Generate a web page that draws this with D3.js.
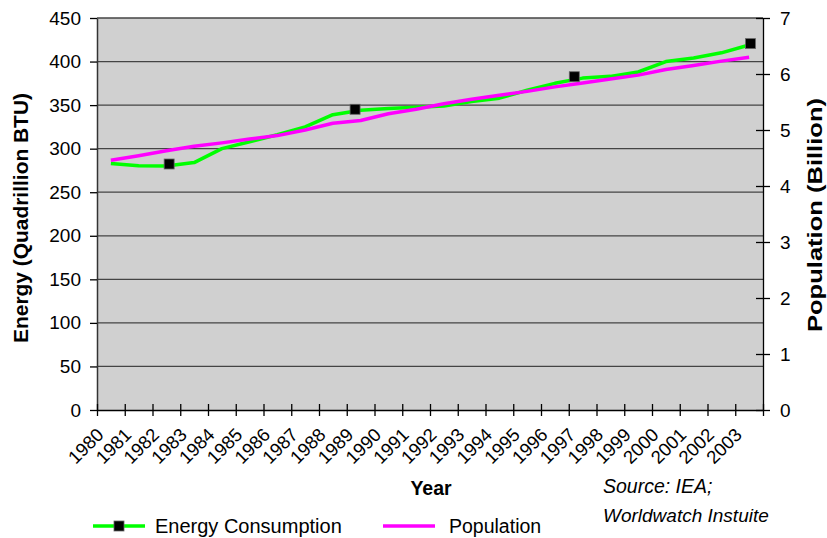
<!DOCTYPE html>
<html>
<head>
<meta charset="utf-8">
<script src="https://cdn.jsdelivr.net/npm/d3@7/dist/d3.min.js"></script>
<style>
  html, body { margin: 0; padding: 0; background: #fff; }
  svg { display: block; font-family: "Liberation Sans", Arial, sans-serif; }
</style>
</head>
<body>
<svg id="chart" width="827" height="538"></svg>
<script>
// World energy consumption vs. population, 1980-2003
const years = [1980, 1981, 1982, 1983, 1984, 1985, 1986, 1987, 1988, 1989, 1990, 1991,
               1992, 1993, 1994, 1995, 1996, 1997, 1998, 1999, 2000, 2001, 2002, 2003];
const energy = [283, 280.5, 280, 284, 300, 308, 316, 325, 339, 344, 346, 347.5,
                349, 354, 358, 367, 375, 381, 383, 388, 400, 404, 410, 419];
const population = [4.46, 4.54, 4.63, 4.71, 4.77, 4.84, 4.90, 5.00, 5.12, 5.17, 5.29, 5.37,
                    5.47, 5.55, 5.62, 5.69, 5.77, 5.84, 5.91, 5.98, 6.08, 6.15, 6.23, 6.30];
// marker positions along the energy series
const markerYears = [1982.1, 1988.8, 1996.7, 2003.05];
const markerEnergy = [282.4, 345.2, 382.6, 420.6];
const energyTicks = [0, 50, 100, 150, 200, 250, 300, 350, 400, 450];
const populationTicks = [0, 1, 2, 3, 4, 5, 6, 7];

const svg = d3.select("#chart");
const plot = { left: 97, right: 763, top: 18, bottom: 410 };
const FONT = "'Liberation Sans', Arial, sans-serif";

const x = d3.scaleLinear().domain([years[0] - 0.5, years[years.length - 1] + 0.5])
  .range([plot.left, plot.right]);
const yE = d3.scaleLinear().domain([0, 450]).range([plot.bottom, plot.top]);
const yP = d3.scaleLinear().domain([0, 7]).range([plot.bottom, plot.top]);

// plot background
svg.append("rect")
  .attr("x", plot.left).attr("y", plot.top)
  .attr("width", plot.right - plot.left).attr("height", plot.bottom - plot.top)
  .attr("fill", "#d0d0d0");

// horizontal gridlines at energy ticks
svg.append("g").selectAll("line").data(energyTicks.filter(d => d > 0)).join("line")
  .attr("x1", plot.left).attr("x2", plot.right)
  .attr("y1", d => yE(d)).attr("y2", d => yE(d))
  .attr("stroke", "#444").attr("stroke-width", 1.3);

// left axis
const gL = svg.append("g").attr("transform", `translate(${plot.left},0)`)
  .call(d3.axisLeft(yE).tickValues(energyTicks).tickSizeInner(7).tickSizeOuter(0).tickPadding(9));
gL.select(".domain").attr("stroke", "#333").attr("stroke-width", 1.5);
gL.selectAll(".tick line").attr("stroke", "#000").attr("stroke-width", 1.3);
gL.selectAll(".tick text").attr("font-size", 19).attr("fill", "#000").attr("font-family", FONT);

// right axis with crossing ticks
const gR = svg.append("g").attr("transform", `translate(${plot.right},0)`)
  .call(d3.axisRight(yP).tickValues(populationTicks).tickFormat(d3.format("d"))
    .tickSizeInner(7).tickSizeOuter(0).tickPadding(10));
gR.select(".domain").attr("stroke", "#000").attr("stroke-width", 1.3);
gR.selectAll(".tick line").attr("x1", -7).attr("stroke", "#000").attr("stroke-width", 1.3);
gR.selectAll(".tick text").attr("font-size", 19).attr("fill", "#000").attr("font-family", FONT);

// bottom axis: category boundaries with crossing ticks
const boundaries = years.map(d => d - 0.5).concat([years[years.length - 1] + 0.5]);
const gB = svg.append("g").attr("transform", `translate(0,${plot.bottom})`)
  .call(d3.axisBottom(x).tickValues(boundaries).tickSizeInner(6).tickSizeOuter(0).tickFormat(""));
gB.select(".domain").attr("stroke", "#000").attr("stroke-width", 1.3);
gB.selectAll(".tick line").attr("y1", -6).attr("stroke", "#000").attr("stroke-width", 1.3);

// rotated year labels
svg.append("g").selectAll("text").data(years).join("text")
  .attr("transform", d => `translate(${x(d) - 6},${plot.bottom + 26}) rotate(-45)`)
  .attr("text-anchor", "end")
  .attr("font-size", 18.5)
  .attr("fill", "#000")
  .text(d => d);

// series lines
const lineE = d3.line().x((d, i) => x(years[i])).y(d => yE(d));
const lineP = d3.line().x((d, i) => x(years[i])).y(d => yP(d));

svg.append("path").datum(energy)
  .attr("d", lineE).attr("fill", "none")
  .attr("stroke", "#00ff00").attr("stroke-width", 3.5).attr("stroke-linejoin", "round");

svg.append("path").datum(population)
  .attr("d", lineP).attr("fill", "none")
  .attr("stroke", "#ff00ff").attr("stroke-width", 3.5).attr("stroke-linejoin", "round");

// square markers on the energy series
const mk = 10;
svg.append("g").selectAll("rect").data(markerYears).join("rect")
  .attr("x", d => x(d) - mk / 2)
  .attr("y", (d, i) => yE(markerEnergy[i]) - mk / 2)
  .attr("width", mk).attr("height", mk)
  .attr("fill", "#000").attr("stroke", "#666").attr("stroke-width", 0.8);

// axis titles
svg.append("text")
  .attr("transform", `translate(28,218) rotate(-90)`)
  .attr("text-anchor", "middle").attr("font-weight", "bold").attr("font-size", 20)
  .attr("textLength", 250).attr("lengthAdjust", "spacingAndGlyphs")
  .text("Energy (Quadrillion BTU)");

svg.append("text")
  .attr("transform", `translate(822,215) rotate(-90)`)
  .attr("text-anchor", "middle").attr("font-weight", "bold").attr("font-size", 20)
  .attr("textLength", 234).attr("lengthAdjust", "spacingAndGlyphs")
  .text("Population (Billion)");

svg.append("text")
  .attr("x", 431).attr("y", 495)
  .attr("text-anchor", "middle").attr("font-weight", "bold").attr("font-size", 19.5)
  .text("Year");

// source note
svg.append("text")
  .attr("x", 603).attr("y", 493)
  .attr("font-style", "italic").attr("font-size", 19.5)
  .text("Source: IEA;");
svg.append("text")
  .attr("x", 603).attr("y", 522)
  .attr("font-style", "italic").attr("font-size", 19)
  .text("Worldwatch Instuite");

// legend
const legend = svg.append("g");
legend.append("line").attr("x1", 93).attr("x2", 145).attr("y1", 526).attr("y2", 526)
  .attr("stroke", "#00ff00").attr("stroke-width", 3.5);
legend.append("rect").attr("x", 119 - mk / 2).attr("y", 526 - mk / 2)
  .attr("width", mk).attr("height", mk)
  .attr("fill", "#000").attr("stroke", "#666").attr("stroke-width", 0.8);
legend.append("text").attr("x", 155).attr("y", 533).attr("font-size", 20)
  .text("Energy Consumption");
legend.append("line").attr("x1", 383).attr("x2", 435).attr("y1", 526).attr("y2", 526)
  .attr("stroke", "#ff00ff").attr("stroke-width", 3.5);
legend.append("text").attr("x", 449).attr("y", 533).attr("font-size", 19.5)
  .text("Population");
</script>
</body>
</html>
